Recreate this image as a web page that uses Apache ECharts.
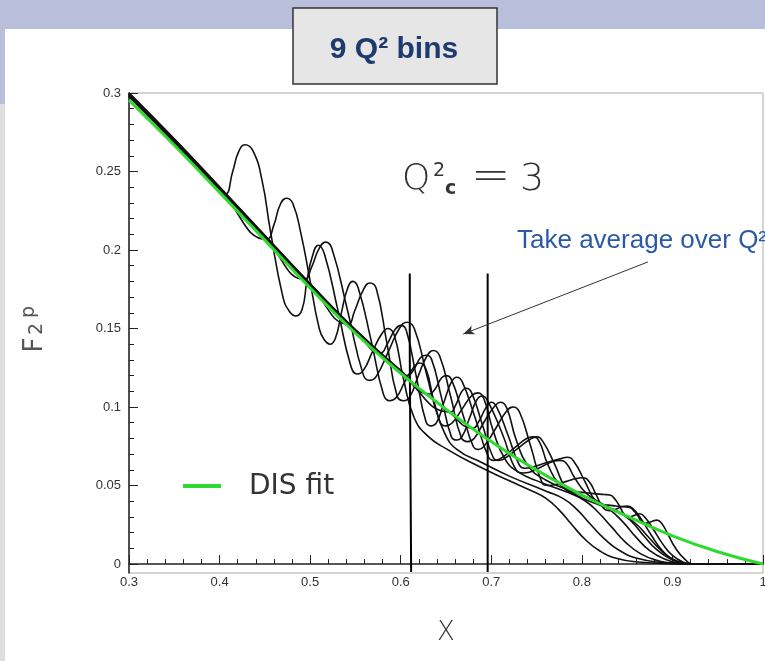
<!DOCTYPE html>
<html><head><meta charset="utf-8">
<script src="https://cdn.jsdelivr.net/npm/echarts@6/dist/echarts.min.js"></script>
<style>html,body{margin:0;padding:0;background:#fff}#c{width:765px;height:661px}</style>
</head><body><div id="c"></div>
<script>
// DIS fit (green)
const fitCurve = [[0.30,0.2955],[0.35,0.2667],[0.40,0.2367],[0.45,0.2063],[0.50,0.1758],[0.55,0.1470],[0.60,0.1215],[0.65,0.0985],[0.70,0.0780],[0.75,0.0598],[0.80,0.0440],[0.85,0.0305],[0.90,0.0180],[0.95,0.0078],[1.00,0.0]];

// 9 Q^2 bins (black curves)
const q2bin1 = [[0.30,0.2983],[0.35,0.2690],[0.395,0.2418],[0.406,0.2355],[0.4145,0.2500],[0.421,0.2625],[0.428,0.2670],[0.437,0.2630],[0.447,0.2440],[0.456,0.2125],[0.470,0.1700],[0.477,0.1610],[0.484,0.1580],[0.491,0.1620],[0.4965,0.1805],[0.502,0.1950],[0.509,0.2030],[0.516,0.1970],[0.5305,0.1620],[0.545,0.1260],[0.552,0.1210],[0.559,0.1235],[0.569,0.1355],[0.579,0.1465],[0.586,0.1500],[0.593,0.1455],[0.603,0.1180],[0.615,0.0930],[0.630,0.0815],[0.650,0.0735],[0.68,0.0640],[0.72,0.0530],[0.745,0.0465],[0.760,0.0420],[0.774,0.0350],[0.789,0.0250],[0.804,0.0155],[0.820,0.0083],[0.838,0.0037],[0.862,0.0013],[0.895,0.0003],[0.92,0],[1.0,0]];
const q2bin2 = [[0.30,0.2986],[0.35,0.2693],[0.40,0.2389],[0.452,0.2068],[0.460,0.2160],[0.467,0.2290],[0.474,0.2330],[0.481,0.2295],[0.490,0.2100],[0.498,0.1865],[0.510,0.1500],[0.516,0.1425],[0.522,0.1400],[0.528,0.1440],[0.5345,0.1600],[0.541,0.1750],[0.547,0.1800],[0.553,0.1760],[0.5675,0.1420],[0.581,0.1080],[0.588,0.1040],[0.595,0.1060],[0.6045,0.1160],[0.614,0.1250],[0.621,0.1280],[0.628,0.1240],[0.637,0.1030],[0.648,0.0840],[0.662,0.0730],[0.69,0.0645],[0.72,0.0560],[0.76,0.0465],[0.780,0.0415],[0.795,0.0345],[0.810,0.0250],[0.825,0.0160],[0.842,0.0085],[0.862,0.0035],[0.89,0.0009],[0.92,0],[1.0,0]];
const q2bin3 = [[0.30,0.2989],[0.35,0.2696],[0.40,0.2392],[0.45,0.2083],[0.494,0.1813],[0.5015,0.1890],[0.510,0.2010],[0.517,0.2050],[0.524,0.2010],[0.5415,0.1610],[0.559,0.1200],[0.566,0.1170],[0.573,0.1195],[0.5865,0.1355],[0.599,0.1505],[0.607,0.1540],[0.615,0.1500],[0.6285,0.1210],[0.643,0.0910],[0.650,0.0880],[0.657,0.0900],[0.6675,0.0985],[0.678,0.1070],[0.685,0.1090],[0.692,0.1050],[0.702,0.0850],[0.715,0.0670],[0.73,0.0585],[0.755,0.0520],[0.785,0.0455],[0.803,0.0405],[0.818,0.0330],[0.833,0.0235],[0.848,0.0140],[0.865,0.0065],[0.885,0.0020],[0.905,0.0004],[0.92,0],[1.0,0]];
const q2bin4 = [[0.30,0.2992],[0.35,0.2699],[0.40,0.2395],[0.45,0.2086],[0.50,0.1778],[0.542,0.1528],[0.549,0.1610],[0.559,0.1750],[0.566,0.1790],[0.573,0.1755],[0.5845,0.1415],[0.596,0.1070],[0.603,0.1040],[0.610,0.1065],[0.6195,0.1200],[0.629,0.1325],[0.636,0.1360],[0.643,0.1325],[0.655,0.1070],[0.667,0.0805],[0.674,0.0780],[0.681,0.0800],[0.692,0.0905],[0.703,0.1000],[0.710,0.1030],[0.717,0.0995],[0.727,0.0800],[0.740,0.0630],[0.760,0.0535],[0.79,0.0460],[0.815,0.0400],[0.830,0.0350],[0.845,0.0270],[0.860,0.0170],[0.875,0.0085],[0.892,0.0030],[0.908,0.0006],[0.92,0],[1.0,0]];
const q2bin5 = [[0.30,0.2995],[0.35,0.2702],[0.40,0.2397],[0.45,0.2088],[0.50,0.1780],[0.55,0.1487],[0.578,0.1345],[0.585,0.1400],[0.594,0.1495],[0.600,0.1520],[0.606,0.1490],[0.617,0.1200],[0.628,0.0905],[0.634,0.0880],[0.640,0.0905],[0.648,0.1035],[0.656,0.1160],[0.662,0.1190],[0.668,0.1160],[0.6825,0.0925],[0.697,0.0680],[0.703,0.0660],[0.709,0.0668],[0.7245,0.0735],[0.739,0.0800],[0.746,0.0810],[0.753,0.0780],[0.762,0.0640],[0.775,0.0510],[0.795,0.0435],[0.82,0.0375],[0.840,0.0335],[0.855,0.0270],[0.869,0.0175],[0.883,0.0090],[0.897,0.0035],[0.910,0.0008],[0.92,0],[1.0,0]];
const q2bin6 = [[0.30,0.2998],[0.35,0.2705],[0.40,0.2400],[0.45,0.2091],[0.50,0.1783],[0.55,0.1490],[0.60,0.1231],[0.607,0.1200],[0.6135,0.1230],[0.622,0.1315],[0.628,0.1330],[0.634,0.1305],[0.645,0.1060],[0.656,0.0810],[0.662,0.0790],[0.668,0.0815],[0.676,0.0930],[0.684,0.1045],[0.690,0.1070],[0.696,0.1040],[0.7125,0.0825],[0.728,0.0595],[0.735,0.0580],[0.742,0.0585],[0.7555,0.0620],[0.769,0.0655],[0.776,0.0660],[0.783,0.0640],[0.792,0.0550],[0.805,0.0450],[0.825,0.0375],[0.845,0.0315],[0.860,0.0255],[0.873,0.0175],[0.886,0.0095],[0.899,0.0035],[0.911,0.0008],[0.921,0],[1.0,0]];
const q2bin7 = [[0.30,0.3001],[0.35,0.2708],[0.40,0.2403],[0.45,0.2094],[0.50,0.1786],[0.55,0.1493],[0.60,0.1234],[0.632,0.1083],[0.638,0.1115],[0.645,0.1185],[0.650,0.1200],[0.656,0.1175],[0.668,0.0965],[0.680,0.0750],[0.686,0.0730],[0.692,0.0750],[0.705,0.0865],[0.717,0.0975],[0.724,0.1000],[0.731,0.0970],[0.7435,0.0750],[0.756,0.0520],[0.763,0.0500],[0.770,0.0505],[0.782,0.0525],[0.794,0.0545],[0.801,0.0550],[0.808,0.0525],[0.8155,0.0445],[0.824,0.0355],[0.830,0.0340],[0.836,0.0347],[0.840,0.0355],[0.845,0.0367],[0.850,0.0370],[0.856,0.0355],[0.864,0.0300],[0.876,0.0190],[0.889,0.0085],[0.902,0.0025],[0.913,0.0005],[0.921,0],[1.0,0]];
const q2bin8 = [[0.30,0.2980],[0.35,0.2687],[0.40,0.2383],[0.45,0.2074],[0.50,0.1767],[0.55,0.1475],[0.60,0.1219],[0.655,0.0968],[0.6605,0.1010],[0.667,0.1095],[0.672,0.1120],[0.678,0.1095],[0.690,0.0890],[0.702,0.0680],[0.708,0.0660],[0.714,0.0670],[0.729,0.0735],[0.743,0.0795],[0.750,0.0810],[0.757,0.0780],[0.770,0.0635],[0.783,0.0475],[0.790,0.0460],[0.797,0.0458],[0.8105,0.0450],[0.824,0.0443],[0.831,0.0440],[0.837,0.0410],[0.8415,0.0370],[0.847,0.0315],[0.852,0.0300],[0.858,0.0310],[0.864,0.0320],[0.870,0.0295],[0.878,0.0230],[0.889,0.0130],[0.900,0.0055],[0.912,0.0012],[0.922,0],[1.0,0]];
const q2bin9 = [[0.30,0.2977],[0.35,0.2684],[0.40,0.2380],[0.45,0.2071],[0.50,0.1764],[0.55,0.1472],[0.60,0.1216],[0.65,0.0987],[0.680,0.0866],[0.686,0.0905],[0.694,0.0995],[0.700,0.1030],[0.706,0.1000],[0.7185,0.0820],[0.731,0.0630],[0.737,0.0610],[0.744,0.0615],[0.7605,0.0645],[0.776,0.0670],[0.784,0.0680],[0.791,0.0655],[0.803,0.0530],[0.815,0.0400],[0.822,0.0380],[0.829,0.0375],[0.8375,0.0370],[0.846,0.0365],[0.853,0.0360],[0.858,0.0335],[0.8615,0.0310],[0.866,0.0270],[0.870,0.0260],[0.8765,0.0270],[0.883,0.0280],[0.888,0.0260],[0.895,0.0190],[0.903,0.0105],[0.913,0.0035],[0.923,0],[1.0,0]];
const q2bins = [q2bin1,q2bin2,q2bin3,q2bin4,q2bin5,q2bin6,q2bin7,q2bin8,q2bin9];

// vertical cut lines and arrow (data coordinates)
const cutLineA = [[0.610,0.185],[0.610,0.133],[0.6115,0.133],[0.6115,-0.005]];
const cutLineB = [[0.696,0.185],[0.696,-0.005]];
const arrowFrom = [0.873,0.1924];
const arrowTo = [0.669,0.1465];

// axis ticks
const yMajorTicks = [0,0.05,0.1,0.15,0.2,0.25,0.3];
const yMinorTicks = [0.01,0.02,0.03,0.04,0.06,0.07,0.08,0.09,0.11,0.12,0.13,0.14,0.16,0.17,0.18,0.19,0.21,0.22,0.23,0.24,0.26,0.27,0.28,0.29];
const xMin = 0.3, xMax = 1, xStep = 0.1;
const yMin = -0.0057, yMax = 0.3;

const chart = echarts.init(document.getElementById('c'), null, {renderer:'canvas'});
const AX = '#222';
const series = q2bins.map((d,i)=>({
  type:'line', name:'Q2 bin '+(i+1), data:d, showSymbol:false, smooth:0.5,
  lineStyle:{color:'#111', width:1.6}, z:3, silent:true
}));
series.push({type:'line', name:'cutA', data:cutLineA, showSymbol:false, lineStyle:{color:'#000', width:2}, z:4, silent:true});
series.push({type:'line', name:'cutB', data:cutLineB, showSymbol:false, lineStyle:{color:'#000', width:2}, z:4, silent:true});
series.push({type:'line', name:'DIS fit', data:fitCurve, showSymbol:false, smooth:0.5, lineStyle:{color:'#2fd92f', width:3}, z:5, silent:true,
  markLine:{silent:true, symbol:['none','arrow'], symbolSize:[7,11], animation:false,
    lineStyle:{color:'#333', width:1, type:'solid'}, label:{show:false},
    data:[[{coord:arrowFrom},{coord:arrowTo}]]}});

chart.setOption({
  animation:false,
  backgroundColor:'#fff',
  textStyle:{fontFamily:'Liberation Sans'},
  grid:{left:129, right:2, top:93, bottom:88, containLabel:false, outerBoundsMode:'none', show:true, borderColor:'#aaa', borderWidth:1, backgroundColor:'transparent'},
  xAxis:{type:'value', min:xMin, max:xMax, interval:xStep,
    axisLine:{lineStyle:{color:AX, width:1.5}},
    axisTick:{inside:true, length:9, lineStyle:{color:AX}},
    minorTick:{show:true, splitNumber:5, length:5, lineStyle:{color:AX}},
    splitLine:{show:false}, minorSplitLine:{show:false},
    axisLabel:{margin:3, fontSize:13, color:'#333', formatter:v=>String(+v.toFixed(2))}},
  yAxis:[{type:'value', min:yMin, max:yMax,
    axisLine:{show:true, lineStyle:{color:AX, width:1.5}},
    axisTick:{show:true, inside:true, length:9, customValues:yMajorTicks, lineStyle:{color:AX}},
    splitLine:{show:false},
    axisLabel:{margin:8, fontSize:13, color:'#333', customValues:yMajorTicks, formatter:v=>String(+(+v).toFixed(2))}},
   {type:'value', min:yMin, max:yMax, position:'left',
    axisLine:{show:false}, axisLabel:{show:false}, splitLine:{show:false},
    axisTick:{show:true, inside:true, length:5, customValues:yMinorTicks, lineStyle:{color:AX}}}],
  series:series,
  graphic:[
    {type:'rect', z:-10, silent:true, shape:{x:0,y:0,width:765,height:29}, style:{fill:'#b9bedb'}},
    {type:'rect', z:-10, silent:true, shape:{x:0,y:29,width:5,height:75}, style:{fill:'#b9bedb'}},
    {type:'rect', z:-10, silent:true, shape:{x:0,y:104,width:5,height:557}, style:{fill:'#dedede'}},
    {type:'rect', z:10, silent:true, shape:{x:293,y:8,width:204,height:76}, style:{fill:'#e6e6e6', stroke:'#333', lineWidth:1.5}},
    {type:'text', z:11, silent:true, x:394, y:50, style:{text:'9 Q² bins', fontFamily:'Liberation Sans', fontWeight:'bold', fontSize:30, fill:'#1d3b6e', align:'center', verticalAlign:'middle'}},
    // Q^2_c = 3
    {type:'text', z:11, silent:true, x:402, y:180, style:{text:'Q', fontFamily:'DejaVu Sans', fontWeight:200, fontSize:36, fill:'#333', align:'left', verticalAlign:'middle'}},
    {type:'text', z:11, silent:true, x:433, y:171, style:{text:'2', fontFamily:'DejaVu Sans', fontWeight:'normal', fontSize:19, fill:'#333', align:'left', verticalAlign:'middle'}},
    {type:'text', z:11, silent:true, x:445, y:189, style:{text:'c', fontFamily:'DejaVu Sans', fontWeight:'bold', fontSize:19, fill:'#333', align:'left', verticalAlign:'middle'}},
    {type:'text', z:11, silent:true, x:471, y:178, style:{text:'=', fontFamily:'DejaVu Sans', fontWeight:200, fontSize:47, fill:'#333', align:'left', verticalAlign:'middle'}},
    {type:'text', z:11, silent:true, x:520, y:180, style:{text:'3', fontFamily:'DejaVu Sans', fontWeight:200, fontSize:38, fill:'#333', align:'left', verticalAlign:'middle'}},
    {type:'text', z:11, silent:true, x:517, y:241, style:{text:'Take average over Q²', fontFamily:'Liberation Sans', fontSize:26, fill:'#2a5aa6', align:'left', verticalAlign:'middle'}},
    // legend
    {type:'line', z:11, silent:true, shape:{x1:183,y1:486,x2:221,y2:486}, style:{stroke:'#2fd92f', lineWidth:4}},
    {type:'text', z:11, silent:true, x:249, y:487, style:{text:'DIS fit', fontFamily:'DejaVu Sans', fontSize:28, fill:'#333', align:'left', verticalAlign:'middle'}},
    // axis names
    {type:'text', z:11, silent:true, x:446, y:633, style:{text:'X', fontFamily:'DejaVu Sans', fontWeight:200, fontSize:26, fill:'#333', align:'center', verticalAlign:'middle'}},
    {type:'text', z:11, silent:true, x:35, y:345, rotation:Math.PI/2, style:{text:'F', fontFamily:'DejaVu Sans', fontWeight:'normal', fontSize:26, fill:'#555', align:'center', verticalAlign:'middle'}},
    {type:'text', z:11, silent:true, x:37, y:329, rotation:Math.PI/2, style:{text:'2', fontFamily:'DejaVu Sans', fontWeight:'normal', fontSize:19, fill:'#555', align:'center', verticalAlign:'middle'}},
    {type:'text', z:11, silent:true, x:29, y:312, rotation:Math.PI/2, style:{text:'p', fontFamily:'DejaVu Sans', fontWeight:'normal', fontSize:19, fill:'#555', align:'center', verticalAlign:'middle'}}
  ]
});
</script></body></html>
